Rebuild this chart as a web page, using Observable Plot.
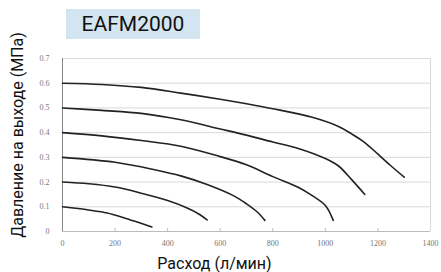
<!DOCTYPE html>
<html><head><meta charset="utf-8">
<script src="https://cdn.jsdelivr.net/npm/d3@7"></script>
<script src="https://cdn.jsdelivr.net/npm/@observablehq/plot@0.6"></script>
<style>
body{margin:0;background:#fff;}
#wrap{position:relative;width:441px;height:272px;}
#wrap svg{position:absolute;left:0;top:0;}
#title{position:absolute;left:66px;top:9px;width:134px;height:30px;background:#d3e5f0;font:21px Roboto, sans-serif;color:#111;display:flex;align-items:center;justify-content:center;z-index:2;}
</style></head><body>
<div id="wrap"><div id="title">EAFM2000</div></div>
<script>
const titleText = "EAFM2000";
const xLabel = "Расход (л/мин)";
const yLabel = "Давление на выходе (МПа)";
const xTicks = [0, 200, 400, 600, 800, 1000, 1200, 1400];
const yTicks = [0, 0.1, 0.2, 0.3, 0.4, 0.5, 0.6, 0.7];
const yTickLabels = ["0", "0.1", "0.2", "0.3", "0.4", "0.5", "0.6", "0.7"];

const flow06 = [0, 150, 300, 450, 600, 700, 800, 950, 1050, 1100, 1150, 1200, 1250, 1300];
const pres06 = [0.6, 0.595, 0.583, 0.56, 0.535, 0.517, 0.497, 0.462, 0.425, 0.395, 0.36, 0.313, 0.265, 0.22];
const flow05 = [0, 150, 300, 450, 600, 700, 800, 900, 1000, 1050, 1100, 1150];
const pres05 = [0.5, 0.49, 0.478, 0.452, 0.415, 0.39, 0.362, 0.335, 0.295, 0.265, 0.21, 0.15];
const flow04 = [0, 150, 300, 450, 600, 700, 800, 900, 950, 1000, 1030];
const pres04 = [0.4, 0.387, 0.368, 0.345, 0.303, 0.27, 0.222, 0.177, 0.145, 0.105, 0.045];
const flow03 = [0, 200, 350, 450, 550, 650, 700, 740, 770];
const pres03 = [0.3, 0.28, 0.25, 0.225, 0.19, 0.145, 0.112, 0.08, 0.045];
const flow02 = [0, 100, 200, 300, 400, 470, 520, 550];
const pres02 = [0.2, 0.193, 0.18, 0.155, 0.125, 0.097, 0.07, 0.047];
const flow01 = [0, 100, 170, 230, 290, 340];
const pres01 = [0.1, 0.087, 0.075, 0.057, 0.036, 0.018];

const series = [
  ["0.6", flow06, pres06], ["0.5", flow05, pres05], ["0.4", flow04, pres04],
  ["0.3", flow03, pres03], ["0.2", flow02, pres02], ["0.1", flow01, pres01]
];
const data = series.flatMap(([name, f, p]) => f.map((v, i) => ({name, flow: v, pressure: p[i]})));

document.getElementById("title").textContent = titleText;

const chart = Plot.plot({
  width: 441, height: 272,
  marginTop: 58, marginBottom: 41, marginLeft: 62, marginRight: 11,
  style: {fontFamily: "'Liberation Serif', serif", fontSize: "8px", color: "#777", background: "transparent"},
  x: {domain: [0, 1400]},
  y: {domain: [0, 0.7]},
  marks: [
    Plot.ruleY(yTicks.filter(d => d > 0), {stroke: "#d9d9d9", strokeWidth: 1}),
    Plot.ruleX([1400], {stroke: "#d9d9d9"}),
    Plot.ruleX(xTicks.slice(1, -1), {y1: 0, y2: 0.012, stroke: "#bbb"}),
    Plot.ruleY([0], {stroke: "#bbb"}),
    Plot.ruleX([0], {stroke: "#888"}),
    Plot.axisX({ticks: xTicks, tickSize: 0, tickPadding: 9, tickFormat: d => String(d), label: null}),
    Plot.axisY({ticks: yTicks, tickSize: 0, tickPadding: 13, tickFormat: (d, i) => yTickLabels[i], label: null}),
    Plot.line(data, {x: "flow", y: "pressure", z: "name", stroke: "#222", strokeWidth: 1.6, curve: "catmull-rom"}),
    Plot.text([xLabel], {frameAnchor: "bottom", textAnchor: "middle", lineAnchor: "middle", dx: -32, dy: 32, fontSize: 16, fontFamily: "Roboto, sans-serif", fill: "#111"}),
    Plot.text([yLabel], {frameAnchor: "left", textAnchor: "middle", lineAnchor: "middle", dx: -45, dy: -10, rotate: -90, fontSize: 16, fontFamily: "Roboto, sans-serif", fill: "#111"})
  ]
});
document.getElementById("wrap").appendChild(chart);
</script>
</body></html>
